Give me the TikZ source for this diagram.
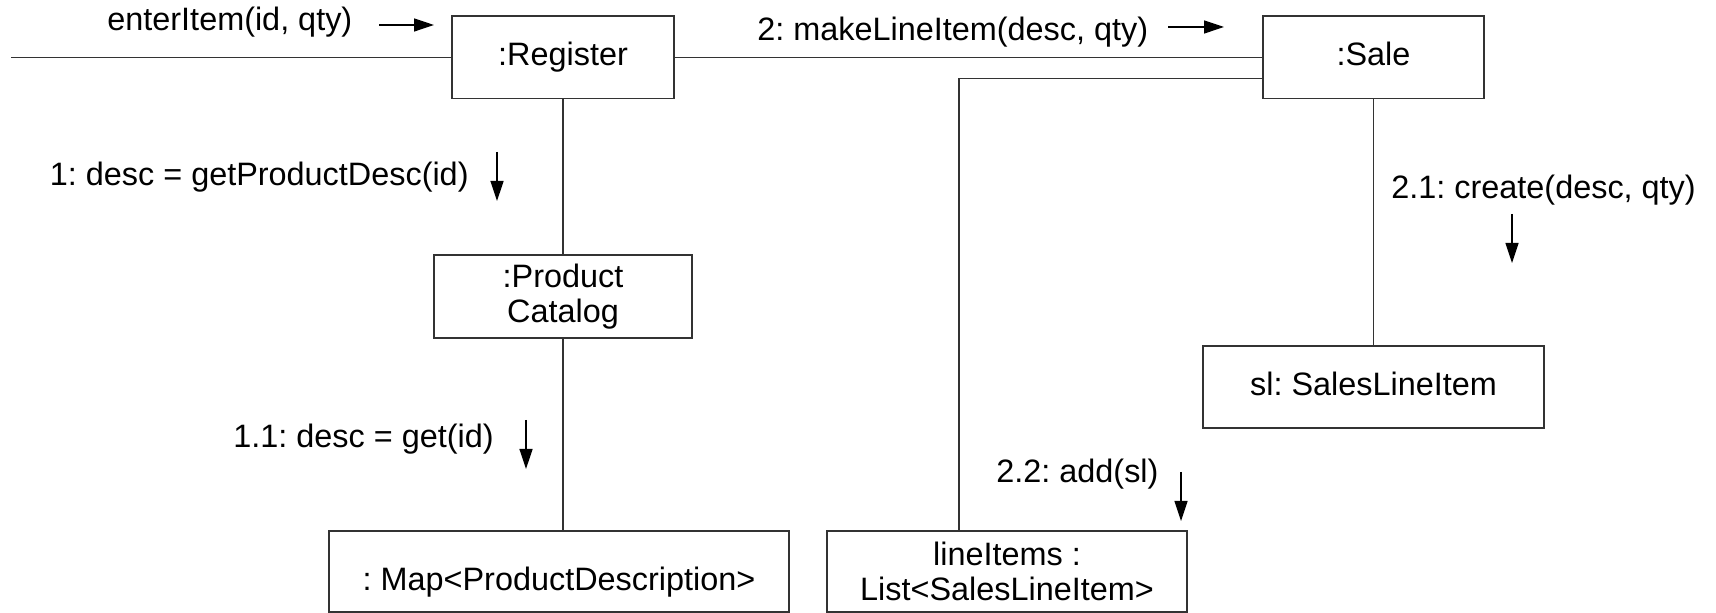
\documentclass[tikz,border=0pt]{standalone}
\usepackage{fontspec}
\setmainfont{Liberation Sans}
\usetikzlibrary{arrows.meta}
\frenchspacing

\begin{document}
\begin{tikzpicture}[x=0.5pt, y=-0.5pt,
  every node/.style={font=\fontsize{16.2}{17.5}\selectfont, inner sep=0pt},
  obj/.style={draw=black!80, line width=0.65pt, fill=white, rectangle, align=center},
  oneline/.style={text height=12pt, text depth=3.5pt},
  conn/.style={draw=black!80, line width=0.6pt},
  msg/.style={draw=black, line width=0.65pt, -{Triangle[length=10pt, width=6.5pt]}},
  lbl/.style={anchor=base west}]

  \useasboundingbox (0,0) rectangle (1716,613);

  % objects
  \node[obj, oneline, minimum width=111pt, minimum height=41.35pt] (reg) at (563,57.35) {:Register};
  \node[obj, oneline, minimum width=110.5pt, minimum height=41.35pt] (sale) at (1373.5,57.35) {:Sale};
  \node[obj, minimum width=129pt, minimum height=41.5pt] (pc) at (563,296.5) {:Product\\Catalog};
  \node[obj, text height=20pt, text depth=1.5pt, minimum width=230pt, minimum height=40.5pt] (map) at (559,571.5) {: Map<ProductDescription>};
  \node[obj, minimum width=180pt, minimum height=40.5pt] (list) at (1007,571.5) {lineItems :\\List<SalesLineItem>};
  \node[obj, oneline, minimum width=170.5pt, minimum height=41pt] (sli) at (1373.5,387) {sl: SalesLineItem};

  % links
  \coordinate (inA) at (11,57.35);
  \draw[conn] (inA) -- (inA -| reg.west);
  \draw[conn] (reg.east) -- (sale.west);
  \coordinate (bend) at (959,78.7);
  \draw[conn] (bend -| sale.west) -- (bend) -- (bend |- list.north);
  \draw[conn] (reg.south) -- (reg.south |- pc.north);
  \draw[conn] (pc.south) -- (pc.south |- map.north);
  \draw[conn] (sale.south) -- (sli.north);

  % messages
  \node[lbl] (m0) at (107,31) {enterItem(id, qty)};
  \coordinate (m0a) at (379,25);
  \coordinate (m0b) at (434,25);
  \draw[msg] (m0a) -- (m0b);

  \node[lbl] (m2) at (757,41) {2: makeLineItem(desc, qty)};
  \coordinate (m2a) at (1168,27);
  \coordinate (m2b) at (1224,27);
  \draw[msg] (m2a) -- (m2b);

  \node[lbl] (m1) at (49.5,186) {1: desc = getProductDesc(id)};
  \coordinate (m1a) at (497,152);
  \coordinate (m1b) at (497,201);
  \draw[msg] (m1a) -- (m1b);

  \node[lbl] (m11) at (233,448) {1.1: desc = get(id)};
  \coordinate (m11a) at (526,420);
  \coordinate (m11b) at (526,469);
  \draw[msg] (m11a) -- (m11b);

  \node[lbl] (m21) at (1391,199) {2.1: create(desc, qty)};
  \coordinate (m21a) at (1512,214);
  \coordinate (m21b) at (1512,263);
  \draw[msg] (m21a) -- (m21b);

  \node[lbl] (m22) at (996,483) {2.2: add(sl)};
  \coordinate (m22a) at (1181,472);
  \coordinate (m22b) at (1181,521);
  \draw[msg] (m22a) -- (m22b);
\end{tikzpicture}
\end{document}
